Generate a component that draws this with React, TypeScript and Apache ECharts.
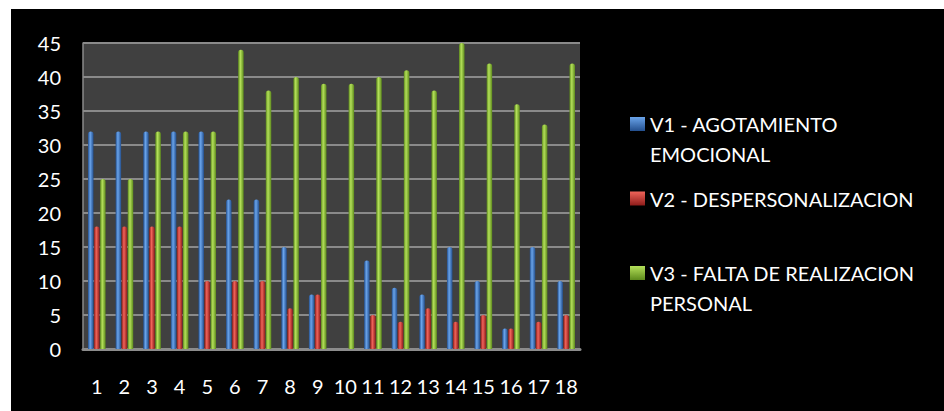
import React, { useEffect, useRef } from "react";
import * as echarts from "echarts";

const categories = ["1","2","3","4","5","6","7","8","9","10","11","12","13","14","15","16","17","18"];
const seriesNames = [
  "V1 - AGOTAMIENTO\nEMOCIONAL",
  "V2 - DESPERSONALIZACION",
  "V3 - FALTA DE REALIZACION\nPERSONAL",
];
const v1 = [32, 32, 32, 32, 32, 22, 22, 15, 8, 0, 13, 9, 8, 15, 10, 3, 15, 10];
const v2 = [18, 18, 18, 18, 10, 10, 10, 6, 8, 0, 5, 4, 6, 4, 5, 3, 4, 5];
const v3 = [25, 25, 32, 32, 32, 44, 38, 40, 39, 39, 40, 41, 38, 45, 42, 36, 33, 42];

const palettes = [
  { edge: "#234f8e", mid: "#6aa4ea", base: "#3b78c6" },
  { edge: "#8e1c1a", mid: "#f0645a", base: "#d0392f" },
  { edge: "#5d8a1c", mid: "#b4e05a", base: "#8fc23a" },
];

const cyl = (p: { edge: string; mid: string; base: string }) =>
  new echarts.graphic.LinearGradient(0, 0, 1, 0, [
    { offset: 0, color: p.edge },
    { offset: 0.4, color: p.mid },
    { offset: 1, color: p.edge },
  ]);

const iconGrad = (p: { edge: string; mid: string; base: string }) =>
  new echarts.graphic.LinearGradient(0, 0, 0, 1, [
    { offset: 0, color: p.mid },
    { offset: 1, color: p.edge },
  ]);

export default function App() {
  const ref = useRef<HTMLDivElement>(null);
  useEffect(() => {
    if (!ref.current) return;
    const chart = echarts.init(ref.current, null, { renderer: "svg" });
    const font = "Lato, 'Noto Sans', sans-serif";
    const data = [v1, v2, v3];
    chart.setOption({
      animation: false,
      backgroundColor: "#000000",
      grid: {
        left: 72,
        right: 364,
        top: 34,
        bottom: 62,
        show: true,
        backgroundColor: "#404040",
        borderWidth: 0,
      },
      legend: {
        orient: "vertical",
        left: 614,
        top: 65,
        icon: "rect",
        itemWidth: 15,
        itemHeight: 14,
        itemGap: 14.5,
        selectedMode: false,
        formatter: (name: string) => (name.includes("\n") ? "\n" + name : name),
        textStyle: {
          color: "#ffffff",
          fontSize: 20,
          fontFamily: font,
          lineHeight: 30,
        },
        data: seriesNames.map((n, i) => ({
          name: n,
          itemStyle: { color: iconGrad(palettes[i]), borderWidth: 0 },
        })),
      },
      xAxis: {
        type: "category",
        data: categories,
        axisTick: { show: false },
        axisLine: { lineStyle: { color: "#8c8c8c", width: 3 } },
        axisLabel: { color: "#ffffff", fontSize: 20, fontFamily: font, margin: 27, interval: 0 },
      },
      yAxis: {
        type: "value",
        min: 0,
        max: 45,
        interval: 5,
        axisLine: { show: true, lineStyle: { color: "#8a8a8a", width: 1.5 } },
        axisTick: { show: false },
        splitLine: { lineStyle: { color: "#8a8a8a", width: 2 } },
        axisLabel: { color: "#ffffff", fontSize: 20, fontFamily: font, margin: 22 },
      },
      series: data.map((d, i) => ({
        name: seriesNames[i],
        type: "bar",
        data: d,
        barWidth: 5.5,
        barGap: "10%",
        itemStyle: {
          color: cyl(palettes[i]),
          borderRadius: [3, 3, 0, 0],
        },
      })),
    });
    return () => chart.dispose();
  }, []);
  return (
    <div
      ref={ref}
      style={{ position: "fixed", left: 11, top: 9, width: 933, height: 402 }}
    />
  );
}
